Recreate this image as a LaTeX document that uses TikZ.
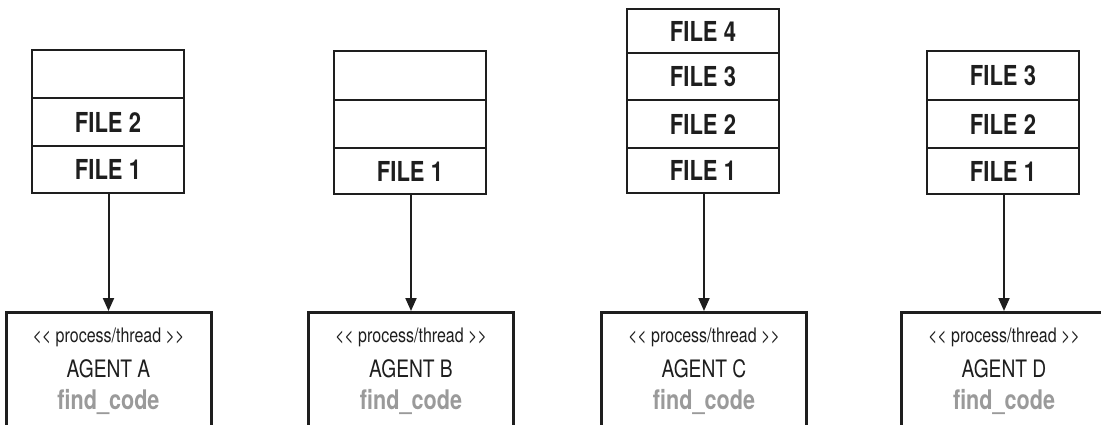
\documentclass[tikz,border=0pt]{standalone}
\usepackage{fontspec}
\setmainfont[FakeStretch=0.8]{TeX Gyre Heros}
\usetikzlibrary{arrows.meta}
\definecolor{ink}{HTML}{1E1E1E}
\definecolor{codegray}{HTML}{9A9A9A}
\tikzset{
  cell/.style={draw=ink, line width=1.3pt, fill=white, minimum width=152pt, inner sep=0pt,
    font=\fontsize{27.5}{27.5}\selectfont\bfseries, text=ink},
  agentbox/.style={draw=ink, line width=3pt, fill=white, minimum width=205pt, minimum height=150pt,
    anchor=north, inner sep=0pt},
  stereo/.style={anchor=base, font=\fontsize{20}{20}\selectfont, text=ink, inner sep=0pt},
  agentname/.style={anchor=base, font=\fontsize{24}{24}\selectfont, text=ink, inner sep=0pt},
  codename/.style={anchor=base, font=\fontsize{27}{27}\selectfont\bfseries, text=codegray, inner sep=0pt},
  conn/.style={draw=ink, line width=2pt, -{Triangle[length=13pt,width=11pt]}},
}
\newcommand{\stereotxt}{{<}{<} process/thread {>}{>}}
\begin{document}
\begin{tikzpicture}[x=1pt,y=-1pt]
\useasboundingbox (0,0) rectangle (1101,424);
\clip (0,0) rectangle (1101,424);
% ---- stack A
\node[cell, minimum height=48pt] (a3) at (108,74) {};
\node[cell, minimum height=48pt] (a2) at (108,122) {FILE 2};
\node[cell, minimum height=47pt] (a1) at (108,169.5) {FILE 1};
% ---- stack B
\node[cell, minimum height=49pt] (b3) at (410,75.5) {};
\node[cell, minimum height=48pt] (b2) at (410,124) {};
\node[cell, minimum height=46pt] (b1) at (410,171) {FILE 1};
% ---- stack C
\node[cell, minimum height=44pt] (c4) at (703,31) {FILE 4};
\node[cell, minimum height=47pt] (c3) at (703,76.5) {FILE 3};
\node[cell, minimum height=48pt] (c2) at (703,124) {FILE 2};
\node[cell, minimum height=45pt] (c1) at (703,170.5) {FILE 1};
% ---- stack D
\node[cell, minimum height=49pt] (d3) at (1003,75.5) {FILE 3};
\node[cell, minimum height=48pt] (d2) at (1003,124) {FILE 2};
\node[cell, minimum height=46pt] (d1) at (1003,171) {FILE 1};
% ---- agents
\node[agentbox] (ga) at (108.5,311) {};
\node[agentbox] (gb) at (411,311) {};
\node[agentbox] (gc) at (704,311) {};
\node[agentbox] (gd) at (1004,311) {};
% labels
\node[stereo] (sa) at (108.5,342) {\stereotxt};
\node[agentname] (na) at (108.5,377) {AGENT A};
\node[codename] (ca) at (108.5,409) {find\_code};
\node[stereo] (sb) at (411,342) {\stereotxt};
\node[agentname] (nb) at (411,377) {AGENT B};
\node[codename] (cb) at (411,409) {find\_code};
\node[stereo] (sc) at (704,342) {\stereotxt};
\node[agentname] (nc) at (704,377) {AGENT C};
\node[codename] (cc) at (704,409) {find\_code};
\node[stereo] (sd) at (1004,342) {\stereotxt};
\node[agentname] (nd) at (1004,377) {AGENT D};
\node[codename] (cd) at (1004,409) {find\_code};
% connectors
\draw[conn] (a1.south -| ga.north) -- (ga.north);
\draw[conn] (b1.south -| gb.north) -- (gb.north);
\draw[conn] (c1.south -| gc.north) -- (gc.north);
\draw[conn] (d1.south -| gd.north) -- (gd.north);
\end{tikzpicture}
\end{document}
